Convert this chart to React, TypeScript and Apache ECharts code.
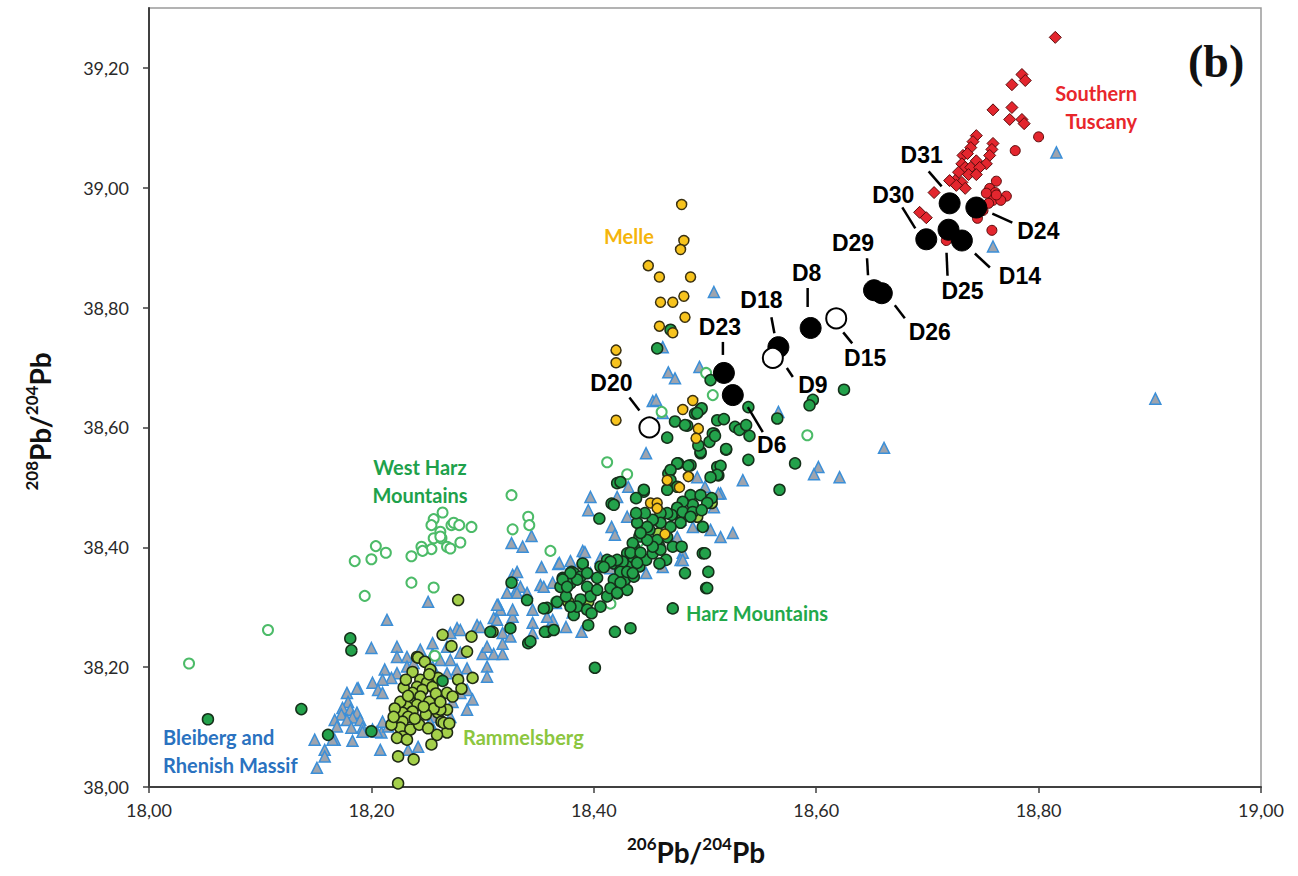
import React, { useEffect, useRef } from "react";
import * as echarts from "echarts";

// ---------- data (206Pb/204Pb, 208Pb/204Pb) ----------
const bleibergRhenish: number[][] = [
  [18.251,38.309],[18.214,38.279],[18.200,38.232],[18.223,38.234],[18.223,38.217],[18.232,38.217],[18.212,38.196],
  [18.223,38.190],[18.218,38.182],[18.210,38.179],[18.201,38.174],[18.206,38.162],[18.210,38.157],[18.188,38.165],
  [18.178,38.157],[18.179,38.142],[18.174,38.132],[18.181,38.129],[18.187,38.124],[18.173,38.121],[18.183,38.116],
  [18.190,38.112],[18.178,38.112],[18.167,38.112],[18.169,38.101],[18.182,38.099],[18.192,38.099],[18.201,38.096],
  [18.209,38.091],[18.215,38.101],[18.219,38.117],[18.149,38.079],[18.167,38.079],[18.183,38.077],[18.158,38.062],
  [18.158,38.051],[18.151,38.032],[18.208,38.062],[18.233,38.062],[18.242,38.067],[18.255,38.117],[18.253,38.107],
  [18.271,38.117],[18.286,38.129],[18.273,38.142],[18.286,38.162],[18.280,38.157],[18.291,38.146],[18.255,38.201],
  [18.262,38.212],[18.255,38.222],[18.271,38.212],[18.277,38.196],[18.268,38.190],[18.286,38.198],[18.304,38.201],
  [18.304,38.184],[18.300,38.222],[18.310,38.222],[18.318,38.222],[18.318,38.239],[18.295,38.270],[18.277,38.265],
  [18.314,38.304],[18.327,38.354],[18.334,38.334],[18.329,38.324],[18.326,38.407],[18.336,38.401],[18.327,38.284],
  [18.310,38.282],[18.232,38.201],[18.238,38.207],[18.255,38.240],[18.268,38.234],[18.187,38.164],[18.165,38.079],
  [18.192,38.092],[18.205,38.092],[18.210,38.109],
  [18.397,38.484],[18.395,38.462],[18.344,38.419],[18.390,38.394],[18.368,38.372],[18.379,38.377],[18.353,38.367],
  [18.331,38.359],[18.322,38.324],[18.331,38.324],[18.352,38.337],[18.363,38.341],[18.340,38.324],[18.316,38.296],
  [18.327,38.296],[18.298,38.267],[18.280,38.262],[18.271,38.257],[18.313,38.279],[18.345,38.274],[18.363,38.279],
  [18.318,38.257],[18.345,38.257],[18.375,38.267],[18.366,38.307],[18.385,38.307],
  [18.447,38.557],[18.431,38.501],[18.421,38.484],[18.416,38.434],[18.419,38.421],[18.369,38.374],[18.392,38.392],
  [18.406,38.382],[18.408,38.367],[18.397,38.357],[18.313,38.304],[18.355,38.334],[18.345,38.296],[18.358,38.284],
  [18.381,38.291],[18.389,38.259],[18.304,38.234],[18.325,38.251],[18.244,38.229],[18.280,38.224],[18.424,38.374],
  [18.435,38.362],[18.447,38.357],[18.480,38.391],[18.462,38.367],[18.478,38.379],[18.475,38.417],[18.514,38.417],
  [18.505,38.429],[18.525,38.424],[18.534,38.512],[18.514,38.490],[18.508,38.467],[18.453,38.644],[18.430,38.451],
  [18.415,38.365],[18.500,38.501],[18.512,38.490],[18.493,38.517],[18.480,38.379],[18.478,38.446],[18.489,38.434],
  [18.508,38.826],[18.462,38.734],[18.467,38.692],[18.473,38.682],[18.495,38.701],[18.456,38.646],[18.462,38.624],
  [18.566,38.626],[18.661,38.566],[18.602,38.534],[18.598,38.522],[18.621,38.517],[18.816,39.059],[18.759,38.902],
  [18.905,38.648]
];

const westHarz: number[][] = [
  [18.326,38.487],[18.341,38.451],[18.342,38.437],[18.327,38.430],[18.264,38.458],[18.256,38.447],[18.254,38.437],
  [18.272,38.437],[18.274,38.441],[18.279,38.437],[18.290,38.434],[18.262,38.426],[18.256,38.415],[18.263,38.415],
  [18.268,38.401],[18.271,38.398],[18.280,38.408],[18.254,38.397],[18.245,38.401],[18.246,38.394],[18.236,38.385],
  [18.204,38.402],[18.213,38.391],[18.200,38.380],[18.185,38.377],[18.236,38.341],[18.256,38.333],[18.194,38.319],
  [18.361,38.394],[18.366,38.309],[18.107,38.262],[18.036,38.206],[18.257,38.219],[18.412,38.542],[18.430,38.522],
  [18.415,38.306],[18.440,38.409],[18.428,38.373],[18.421,38.335],[18.507,38.654],[18.461,38.626],[18.501,38.691],
  [18.592,38.587],[18.262,38.418]
];

const rammelsberg: number[][] = [
  [18.278,38.312],[18.264,38.254],[18.272,38.235],[18.290,38.251],[18.286,38.226],[18.309,38.259],[18.241,38.217],
  [18.244,38.179],[18.250,38.174],[18.241,38.167],[18.246,38.162],[18.255,38.167],[18.260,38.182],[18.237,38.157],
  [18.244,38.151],[18.235,38.142],[18.241,38.137],[18.232,38.134],[18.237,38.126],[18.228,38.124],[18.233,38.117],
  [18.228,38.109],[18.226,38.099],[18.235,38.096],[18.228,38.084],[18.223,38.082],[18.232,38.079],[18.278,38.179],
  [18.291,38.182],[18.268,38.157],[18.273,38.151],[18.268,38.129],[18.260,38.124],[18.263,38.109],[18.268,38.091],
  [18.259,38.087],[18.254,38.071],[18.224,38.051],[18.238,38.046],[18.224,38.006],[18.242,38.216],[18.262,38.129],
  [18.265,38.107],[18.377,38.309],[18.395,38.309],[18.506,38.474],[18.480,38.451],[18.493,38.451],[18.458,38.423],
  [18.248,38.209],[18.237,38.192],[18.253,38.196],
  [18.252,38.142],[18.256,38.131],[18.226,38.142],[18.221,38.131],[18.249,38.121],[18.243,38.104],[18.218,38.104],
  [18.229,38.166],[18.233,38.152],[18.252,38.188],[18.258,38.156],[18.220,38.117],[18.247,38.134],[18.239,38.114],
  [18.262,38.142],[18.231,38.179],[18.281,38.164],[18.270,38.106],[18.251,38.098]
];

const harzMountains: number[][] = [
  [18.181,38.248],[18.182,38.228],[18.137,38.130],[18.053,38.113],[18.161,38.087],[18.200,38.093],[18.326,38.341],
  [18.325,38.265],[18.340,38.312],[18.341,38.240],[18.264,38.177],[18.401,38.199],[18.358,38.299],[18.355,38.298],
  [18.372,38.349],[18.380,38.359],[18.390,38.372],[18.358,38.259],[18.343,38.243],[18.307,38.259],[18.356,38.259],
  [18.382,38.287],[18.395,38.270],[18.364,38.262],
  [18.421,38.507],[18.416,38.473],[18.405,38.448],[18.445,38.493],[18.467,38.523],[18.476,38.540],[18.487,38.537],
  [18.496,38.557],[18.508,38.590],[18.519,38.563],[18.511,38.534],[18.512,38.520],[18.498,38.390],[18.501,38.332],
  [18.482,38.357],[18.471,38.298],[18.433,38.265],[18.419,38.259],
  [18.390,38.373],[18.382,38.357],[18.373,38.348],[18.370,38.334],[18.379,38.340],[18.388,38.351],[18.394,38.334],
  [18.397,38.318],[18.388,38.313],[18.385,38.301],[18.394,38.296],[18.398,38.290],[18.406,38.301],[18.412,38.318],
  [18.421,38.323],[18.430,38.329],[18.428,38.346],[18.436,38.351],[18.441,38.368],[18.436,38.379],[18.430,38.368],
  [18.447,38.379],[18.453,38.390],[18.459,38.401],[18.465,38.379],[18.471,38.401],[18.459,38.373],[18.436,38.401],
  [18.441,38.418],[18.450,38.429],[18.430,38.390],[18.418,38.373],[18.412,38.379],[18.424,38.362],[18.406,38.368],
  [18.367,38.309],[18.375,38.318],[18.379,38.301],
  [18.473,38.610],[18.466,38.583],[18.484,38.603],[18.491,38.623],[18.496,38.630],[18.511,38.612],[18.517,38.614],
  [18.527,38.601],[18.507,38.590],[18.504,38.576],[18.496,38.559],[18.494,38.570],[18.519,38.564],[18.514,38.536],
  [18.511,38.521],[18.505,38.517],[18.485,38.536],[18.475,38.540],[18.469,38.529],[18.469,38.512],[18.475,38.501],
  [18.466,38.496],[18.487,38.487],[18.496,38.487],[18.506,38.482],[18.502,38.474],[18.489,38.471],[18.480,38.476],
  [18.475,38.466],[18.470,38.454],[18.466,38.457],[18.460,38.457],[18.480,38.459],[18.489,38.459],[18.497,38.462],
  [18.498,38.434],[18.487,38.451],[18.478,38.441],[18.469,38.434],[18.460,38.441],[18.453,38.446],[18.448,38.434],
  [18.439,38.441],[18.446,38.457],[18.438,38.457],[18.438,38.482],[18.445,38.496],[18.424,38.509],[18.418,38.471],
  [18.466,38.417],[18.457,38.412],[18.460,38.396],[18.453,38.401],[18.448,38.412],[18.442,38.424],[18.435,38.407],
  [18.433,38.391],[18.442,38.391],[18.439,38.374],[18.426,38.376],[18.421,38.379],[18.415,38.376],[18.424,38.359],
  [18.430,38.359],[18.435,38.357],[18.418,38.346],[18.409,38.367],[18.403,38.349],[18.394,38.357],[18.385,38.346],
  [18.379,38.357],[18.372,38.346],[18.376,38.334],[18.403,38.329],[18.415,38.332],[18.424,38.341],[18.421,38.324],
  [18.479,38.401],[18.500,38.390],[18.503,38.359],[18.502,38.332],
  [18.457,38.732],[18.505,38.679],[18.539,38.634],[18.625,38.663],[18.597,38.646],[18.594,38.637],[18.565,38.615],
  [18.497,38.632],[18.493,38.624],[18.482,38.604],[18.531,38.596],[18.540,38.586],[18.509,38.586],[18.537,38.604],
  [18.581,38.540],[18.567,38.496],[18.539,38.546],[18.469,38.763]
];

const melle: number[][] = [
  [18.479,38.972],[18.481,38.912],[18.478,38.897],[18.449,38.870],[18.459,38.851],[18.487,38.851],[18.460,38.809],
  [18.471,38.809],[18.481,38.819],[18.482,38.784],[18.459,38.769],[18.471,38.758],[18.420,38.729],[18.420,38.708],
  [18.420,38.612],[18.489,38.645],[18.480,38.630],[18.494,38.598],[18.492,38.582],[18.485,38.518],[18.466,38.512],
  [18.477,38.500],[18.451,38.474],[18.457,38.474],[18.457,38.465],[18.464,38.422]
];

const tuscanyDiamonds: number[][] = [
  [18.815,39.251],[18.776,39.172],[18.785,39.189],[18.788,39.179],[18.759,39.130],[18.776,39.134],[18.774,39.114],
  [18.785,39.114],[18.787,39.107],[18.744,39.087],[18.741,39.077],[18.759,39.074],[18.758,39.064],[18.739,39.067],
  [18.732,39.054],[18.736,39.057],[18.756,39.054],[18.731,39.040],[18.744,39.045],[18.753,39.040],[18.734,39.034],
  [18.739,39.034],[18.747,39.034],[18.728,39.026],[18.737,39.022],[18.744,39.022],[18.725,39.012],[18.731,39.009],
  [18.720,39.012],[18.734,38.999],[18.726,39.004],[18.706,38.992],[18.693,38.959],[18.699,38.950]
];

const tuscanyCircles: number[][] = [
  [18.800,39.085],[18.779,39.062],[18.762,39.011],[18.756,38.999],[18.761,38.992],[18.771,38.986],[18.753,38.991],
  [18.759,38.979],[18.766,38.979],[18.755,38.974],[18.762,38.988],[18.750,38.962],[18.745,38.949],[18.758,38.929],
  [18.723,38.979],[18.717,38.912]
];

// analysed samples: [name, 206Pb/204Pb, 208Pb/204Pb]
const samplesFilled: [string, number, number][] = [
  ["D23",18.517,38.691],["D6",18.525,38.654],["D18",18.566,38.734],["D8",18.595,38.766],
  ["D29",18.652,38.829],["D26",18.659,38.824],["D31",18.720,38.974],["D24",18.744,38.967],
  ["D30",18.699,38.914],["D25",18.719,38.930],["D14",18.731,38.912]
];
const samplesOpen: [string, number, number][] = [
  ["D20",18.450,38.600],["D9",18.561,38.716],["D15",18.618,38.782]
];

const xAxisMin = 18.0, xAxisMax = 19.0, xAxisStep = 0.2;
const yAxisMin = 38.0, yAxisMax = 39.3, yAxisStep = 0.2;

// ---------- layout of sample labels (pixel offsets from the marker) ----------
const sampleLabelLayout: Record<string, { label: [number, number]; line: [number, number, number, number] }> = {
  D23: { label: [-4, -46], line: [-1, -31, -1, -18] },
  D6: { label: [39, 50], line: [15, 12, 30, 37] },
  D20: { label: [-38, -44], line: [-20, -30, -10, -17] },
  D18: { label: [-17, -47], line: [-7, -30, -4, -14] },
  D9: { label: [40, 27], line: [14, 10, 20, 19] },
  D8: { label: [-4, -55], line: [-3, -40, -3, -21] },
  D15: { label: [29, 40], line: [7, 14, 16, 25] },
  D29: { label: [-21, -47], line: [-7, -32, -6, -15] },
  D26: { label: [48, 39], line: [13, 12, 23, 25] },
  D31: { label: [-28, -48], line: [-21, -32, -8, -17] },
  D24: { label: [62, 23], line: [16, 6, 36, 15] },
  D30: { label: [-33, -44], line: [-24, -32, -11, -11] },
  D25: { label: [14, 61], line: [-2, 23, -1, 46] },
  D14: { label: [58, 35], line: [13, 13, 28, 27] },
};

const fmt = (v: number) => v.toFixed(2).replace(".", ",");

export default function App() {
  const ref = useRef<HTMLDivElement>(null);
  useEffect(() => {
    if (!ref.current) return;
    const chart = echarts.init(ref.current, undefined, { renderer: "svg" });
    const sans = "Lato, 'Open Sans', sans-serif";
    const sampleLabel = {
      show: true,
      position: "inside",
      formatter: (p: any) => p.name,
      color: "#000",
      opacity: 1,
      fontSize: 23,
      fontWeight: "bold",
      fontFamily: "'Liberation Sans', Arial, sans-serif",
      textBorderWidth: 0,
    };
    const toItems = (arr: [string, number, number][]) =>
      arr.map(([n, x, y]) => ({ name: n, value: [x, y], label: { offset: sampleLabelLayout[n].label } }));
    const leaderData = [...samplesFilled, ...samplesOpen].map(([n, x, y]) => [x, y, ...sampleLabelLayout[n].line]);
    const rich = {
      b: { fontSize: 28, fontWeight: "bold", fontFamily: sans, color: "#111", lineHeight: 34 },
      s: { fontSize: 17, fontWeight: "bold", fontFamily: sans, color: "#111", lineHeight: 22, verticalAlign: "top" },
    };
    const groupText = (text: string, x: number, y: number, color: string, align = "left", vAlign = "middle") => ({
      type: "text",
      x,
      y,
      silent: true,
      style: {
        text,
        fill: color,
        font: `bold 20px ${sans}`,
        align,
        verticalAlign: vAlign,
        lineHeight: 28,
      },
    });
    const pt = (color: string, borderColor: string, borderWidth: number) => ({ color, borderColor, borderWidth, opacity: 1 });
    chart.setOption({
      animation: false,
      backgroundColor: "#ffffff",
      grid: { left: 149, right: 37, top: 8, bottom: 89, show: true, borderColor: "#9a9a9a", borderWidth: 1.5 },
      xAxis: {
        type: "value",
        min: xAxisMin,
        max: xAxisMax,
        interval: xAxisStep,
        splitLine: { show: false },
        axisLine: { show: true, lineStyle: { color: "#404040", width: 2 } },
        axisTick: { show: true, inside: false, length: 6, lineStyle: { color: "#404040", width: 1.5 } },
        axisLabel: { formatter: fmt, color: "#2a2a2a", fontSize: 18, fontFamily: sans, margin: 14 },
        name: "{s|206}{b|Pb/}{s|204}{b|Pb}",
        nameLocation: "middle",
        nameGap: 48,
        nameTextStyle: { rich, padding: [0, 18, 0, 0] },
      },
      yAxis: {
        type: "value",
        min: yAxisMin,
        max: yAxisMax,
        interval: yAxisStep,
        splitLine: { show: false },
        axisLine: { show: true, lineStyle: { color: "#404040", width: 2 } },
        axisTick: { show: true, inside: false, length: 6, lineStyle: { color: "#404040", width: 1.5 } },
        axisLabel: { formatter: fmt, color: "#2a2a2a", fontSize: 18, fontFamily: sans, margin: 20, showMaxLabel: false },
        name: "{s|208}{b|Pb/}{s|204}{b|Pb}",
        nameLocation: "middle",
        nameGap: 92,
        nameTextStyle: { rich, padding: [0, 48, 0, 0] },
      },
      series: [
        {
          type: "scatter", name: "Bleiberg and Rhenish Massif", symbol: "triangle", symbolSize: 11,
          itemStyle: pt("#9ea4ae", "#3b8fd8", 1.5), data: bleibergRhenish, z: 2,
        },
        {
          type: "scatter", name: "West Harz Mountains", symbol: "circle", symbolSize: 10,
          itemStyle: pt("#ffffff", "#4cbb68", 2), data: westHarz, z: 3,
        },
        {
          type: "scatter", name: "Rammelsberg", symbol: "circle", symbolSize: 11,
          itemStyle: pt("#a4d04a", "#1f2a14", 1.5), data: rammelsberg, z: 4,
        },
        {
          type: "scatter", name: "Harz Mountains", symbol: "circle", symbolSize: 11,
          itemStyle: pt("#23a24b", "#15301a", 1.5), data: harzMountains, z: 5,
        },
        {
          type: "scatter", name: "Melle", symbol: "circle", symbolSize: 10,
          itemStyle: pt("#f7c31d", "#3a3010", 1.5), data: melle, z: 6,
        },
        {
          type: "scatter", name: "Southern Tuscany", symbol: "diamond", symbolSize: 12,
          itemStyle: pt("#e3262e", "#5a0a0a", 1), data: tuscanyDiamonds, z: 6,
        },
        {
          type: "scatter", name: "Southern Tuscany (circles)", symbol: "circle", symbolSize: 10,
          itemStyle: pt("#e3262e", "#5a0a0a", 1), data: tuscanyCircles, z: 6,
        },
        {
          type: "custom", name: "leaders", z: 7, silent: true,
          dimensions: ["x", "y", "a", "b", "c", "d"], encode: { x: 0, y: 1 },
          renderItem: (_p: any, api: any) => {
            const p = api.coord([api.value(0), api.value(1)]);
            return {
              type: "line",
              shape: { x1: p[0] + api.value(2), y1: p[1] + api.value(3), x2: p[0] + api.value(4), y2: p[1] + api.value(5) },
              style: { stroke: "#000", lineWidth: 2.5 },
            };
          },
          data: leaderData,
        },
        {
          type: "scatter", name: "Samples", symbol: "circle", symbolSize: 21,
          itemStyle: pt("#000", "#000", 1), label: sampleLabel,
          data: toItems(samplesFilled), z: 8,
        },
        {
          type: "scatter", name: "Samples (open)", symbol: "circle", symbolSize: 20,
          itemStyle: pt("#fff", "#000", 2), label: sampleLabel,
          data: toItems(samplesOpen), z: 9,
        },
      ],
      graphic: [
        groupText("Southern\nTuscany", 1137, 79, "#e8262b", "right", "top"),
        groupText("Melle", 604, 236, "#f5b50c"),
        groupText("West Harz\nMountains", 420, 453, "#1ea14b", "center", "top"),
        groupText("Harz Mountains", 686, 613, "#22a84a"),
        groupText("Rammelsberg", 463, 737, "#8cc63f"),
        groupText("Bleiberg and\nRhenish Massif", 163, 723, "#2a72c0", "left", "top"),
        {
          type: "text", x: 1188, y: 61, silent: true,
          style: { text: "(b)", fill: "#111", font: "bold 46px 'Liberation Serif', 'Times New Roman', serif", align: "left", verticalAlign: "middle" },
        },
      ],
    });
    return () => chart.dispose();
  }, []);
  return <div ref={ref} style={{ position: "fixed", left: 0, top: 0, width: 1298, height: 876, background: "#fff" }} />;
}
